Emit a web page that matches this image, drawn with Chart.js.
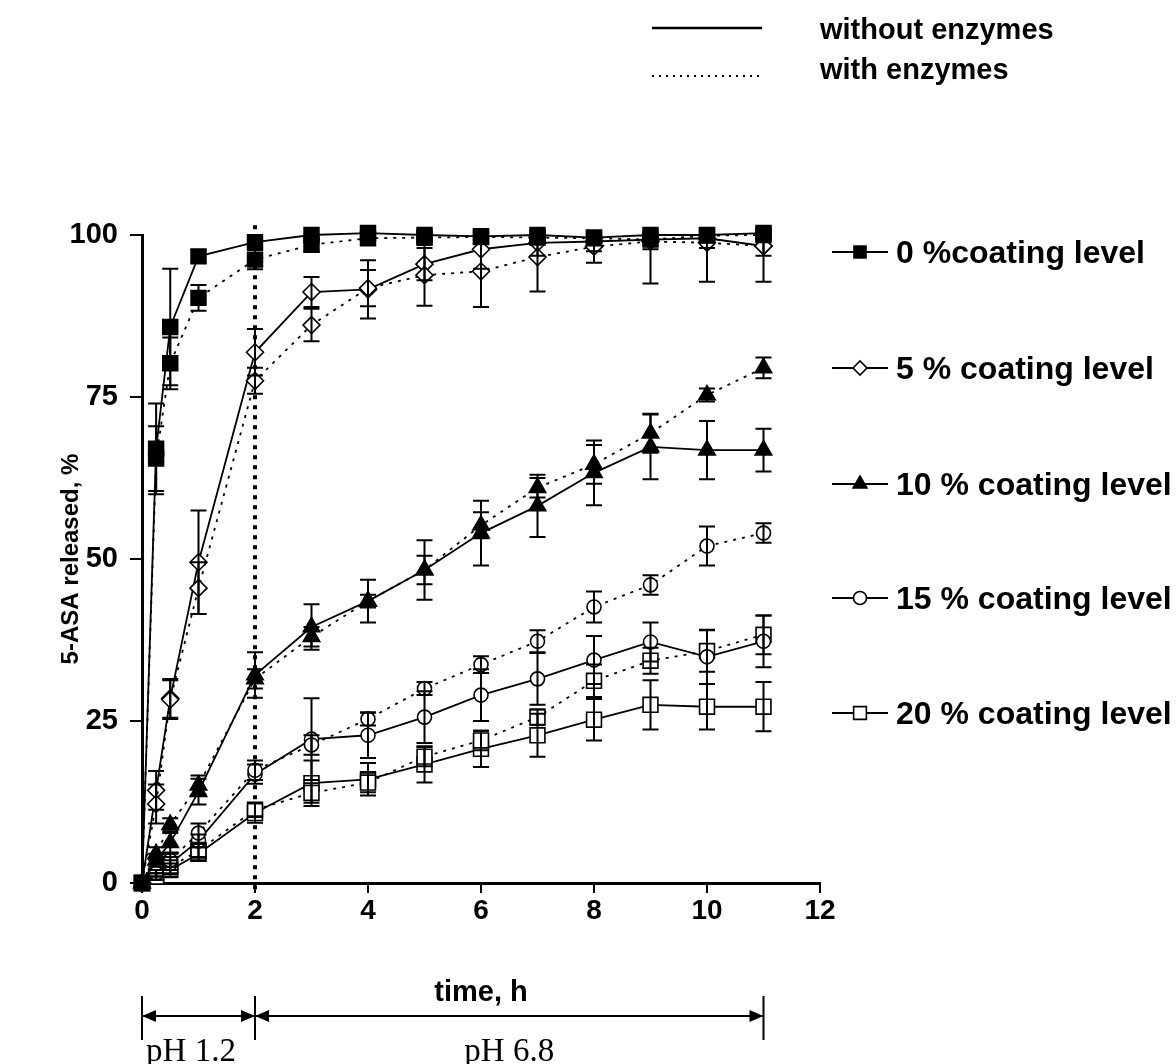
<!DOCTYPE html>
<html>
<head>
<meta charset="utf-8">
<script src="https://cdn.jsdelivr.net/npm/chart.js@4.4.1/dist/chart.umd.min.js"></script>
<style>
  html, body { margin: 0; padding: 0; background: #fff; }
  canvas { display: block; }
</style>
</head>
<body>
<canvas id="grafico" width="1176" height="1064"></canvas>
<script>
// Tiempos de muestreo (h)
const tiempos = [0, 0.25, 0.5, 1, 2, 3, 4, 5, 6, 7, 8, 9, 10, 11];

// Etiquetas de los niveles de recubrimiento
const nivelesRecubrimiento = ['0 %coating level', '5 % coating level', '10 % coating level', '15 % coating level', '20 % coating level'];

// 5-ASA liberado (%) sin enzimas
const sin0 = [0, 67.0, 85.8, 96.7, 98.9, 100.0, 100.3, 100.0, 99.8, 100.0, 99.6, 100.0, 100.0, 100.3];
const sin5 = [0, 14.3, 28.5, 49.5, 81.9, 91.2, 91.6, 95.5, 97.8, 98.8, 99.0, 99.3, 99.5, 98.3];
const sin10 = [0, 3.5, 6.2, 14.1, 32.1, 39.5, 43.5, 48.3, 54.0, 58.2, 63.3, 67.3, 66.8, 66.8];
const sin15 = [0, 1.5, 3.0, 6.5, 16.8, 22.2, 22.8, 25.6, 29.0, 31.5, 34.4, 37.2, 34.9, 37.3];
const sin20 = [0, 1.0, 2.0, 4.5, 10.8, 15.4, 16.0, 18.3, 20.7, 22.8, 25.2, 27.5, 27.2, 27.2];

// 5-ASA liberado (%) con enzimas
const con0 = [0, 65.5, 80.2, 90.3, 96.2, 98.5, 99.5, 99.6, 99.7, 99.6, 99.5, 99.3, 99.9, 100.0];
const con5 = [0, 12.2, 28.3, 45.5, 77.5, 86.1, 91.8, 93.8, 94.4, 96.6, 98.2, 99.0, 98.8, 98.3];
const con10 = [0, 4.5, 9.0, 15.1, 31.5, 38.0, 43.5, 48.3, 55.2, 61.0, 64.6, 69.4, 75.3, 79.5];
const con15 = [0, 1.5, 3.5, 7.7, 17.4, 21.3, 25.3, 30.0, 33.7, 37.3, 42.6, 46.0, 52.0, 54.0];
const con20 = [0, 1.0, 2.5, 5.0, 11.3, 13.9, 15.5, 19.5, 22.0, 25.6, 31.2, 34.3, 35.8, 38.3];

// Desviaciones (barras de error) sin enzimas
const errSin0 = [0, 7, 9, 1, 1, 0.5, 0.5, 0.5, 0.5, 0.5, 0.5, 0.5, 0.5, 0.5];
const errSin5 = [0, 3, 3, 8, 3.6, 2.3, 4.5, 2.5, 3, 2, 1.5, 1.5, 1.5, 1.5];
const errSin10 = [0, 1, 1.5, 2, 3.5, 3.5, 3.3, 4.6, 5, 4.8, 5, 5, 4.5, 3.3];
const errSin15 = [0, 0.5, 1, 1, 1.5, 6.3, 3.5, 4, 4, 4, 3.7, 3, 4.2, 4];
const errSin20 = [0, 0.5, 1, 1, 1.5, 3.5, 2.5, 2.8, 2.8, 3.3, 3.2, 3.8, 3.5, 3.8];

// Desviaciones (barras de error) con enzimas
const errCon0 = [0, 5, 4, 2, 1.5, 1, 0.5, 0.5, 0.5, 0.5, 0.5, 0.5, 0.5, 0.5];
const errCon5 = [0, 3, 3, 4, 2, 2.5, 2.8, 4.7, 5.5, 5.3, 2.5, 6.5, 6, 5.5];
const errCon10 = [0, 1, 1, 1.5, 1.5, 1.5, 1, 2.2, 2, 1.5, 3, 3, 1, 1.6];
const errCon15 = [0, 0.5, 1, 1.5, 1.5, 1.5, 1, 1, 1.3, 1.7, 2.4, 1.5, 3, 1.5];
const errCon20 = [0, 0.5, 1, 1, 1, 1.5, 1.5, 1.5, 1.5, 1.2, 2.5, 2, 3.2, 3];

// Marcas de los ejes
const ticksX = [0, 2, 4, 6, 8, 10, 12];
const ticksY = [0, 25, 50, 75, 100];

// Cambio de pH
const inicioPH = 0;
const cambioPH = 2;
const finPH = 11;
const etiquetasPH = ['pH 1.2', 'pH 6.8'];

// Tope de liberacion (las barras no pasan de aqui)
const liberacionMax = 100;

// Estilo de marcador por nivel
const marcadores = [
  { estilo: 'rect', radio: 10.5, relleno: '#000', leyendaRadio: 8.5 },
  { estilo: 'rectRot', radio: 8.5, relleno: '#fff', leyendaRadio: 7 },
  { estilo: 'triangle', radio: 9.5, relleno: '#000', leyendaRadio: 8 },
  { estilo: 'circle', radio: 7, relleno: '#fff', leyendaRadio: 6.5 },
  { estilo: 'rect', radio: 10.5, relleno: '#fff', leyendaRadio: 9 }
];

const sinEnzimas = [sin0, sin5, sin10, sin15, sin20];
const conEnzimas = [con0, con5, con10, con15, con20];
const erroresSin = [errSin0, errSin5, errSin10, errSin15, errSin20];
const erroresCon = [errCon0, errCon5, errCon10, errCon15, errCon20];

const fuenteSans = '"Liberation Sans", Arial, sans-serif';

// Construir datasets
function crearDataset(valores, errores, m, punteado, etiqueta) {
  return {
    label: etiqueta,
    data: valores.map((v, i) => ({ x: tiempos[i], y: v })),
    errores: errores,
    borderColor: '#000',
    borderWidth: 1.8,
    borderDash: punteado ? [3, 6] : [],
    pointStyle: m.estilo,
    pointRadius: m.radio,
    pointBackgroundColor: m.relleno,
    pointBorderColor: '#000',
    pointBorderWidth: 1.6,
    tension: 0,
    fill: false,
    clip: false
  };
}

const datasets = [];
nivelesRecubrimiento.forEach((nivel, k) => {
  datasets.push(crearDataset(conEnzimas[k], erroresCon[k], marcadores[k], true, nivel + ' (with enzymes)'));
  datasets.push(crearDataset(sinEnzimas[k], erroresSin[k], marcadores[k], false, nivel));
});

// Fondo blanco
const pluginFondo = {
  id: 'fondo',
  beforeDraw(chart) {
    const ctx = chart.ctx;
    ctx.save();
    ctx.fillStyle = '#fff';
    ctx.fillRect(0, 0, chart.width, chart.height);
    ctx.restore();
  }
};

// Linea vertical de cambio de pH
const pluginLineaPH = {
  id: 'lineaPH',
  beforeDatasetsDraw(chart) {
    const { ctx, scales } = chart;
    const x = scales.x.getPixelForValue(cambioPH);
    ctx.save();
    ctx.strokeStyle = '#000';
    ctx.lineWidth = 4;
    ctx.setLineDash([4, 6]);
    ctx.beginPath();
    ctx.moveTo(x, scales.y.getPixelForValue(101.5));
    ctx.lineTo(x, scales.y.getPixelForValue(0) + 8);
    ctx.stroke();
    ctx.restore();
  }
};

// Barras de error
const pluginErrores = {
  id: 'errores',
  afterDatasetsDraw(chart) {
    const { ctx, scales } = chart;
    ctx.save();
    ctx.strokeStyle = '#000';
    ctx.lineWidth = 2;
    ctx.setLineDash([]);
    chart.data.datasets.forEach(ds => {
      ds.data.forEach((p, i) => {
        const e = ds.errores[i];
        if (!e) return;
        const arriba = p.y + e;
        const recortado = arriba > liberacionMax;
        const x = scales.x.getPixelForValue(p.x);
        const y1 = scales.y.getPixelForValue(recortado ? Math.max(p.y, liberacionMax) : arriba);
        const y2 = scales.y.getPixelForValue(p.y - e);
        ctx.beginPath();
        ctx.moveTo(x, y1);
        ctx.lineTo(x, y2);
        if (!recortado) {
          ctx.moveTo(x - 8, y1);
          ctx.lineTo(x + 8, y1);
        }
        ctx.moveTo(x - 8, y2);
        ctx.lineTo(x + 8, y2);
        ctx.stroke();
      });
    });
    ctx.restore();
  }
};

// Punta de flecha
function flecha(ctx, x, y, dir) {
  ctx.beginPath();
  ctx.moveTo(x, y);
  ctx.lineTo(x - dir * 14, y - 6);
  ctx.lineTo(x - dir * 14, y + 6);
  ctx.closePath();
  ctx.fill();
}

// Leyendas y anotacion de pH
const pluginLeyendas = {
  id: 'leyendas',
  afterDraw(chart) {
    const { ctx, scales } = chart;
    ctx.save();
    ctx.fillStyle = '#000';
    ctx.strokeStyle = '#000';

    // Leyenda superior (tipo de linea)
    ctx.lineWidth = 2.5;
    ctx.beginPath();
    ctx.moveTo(652, 28);
    ctx.lineTo(762, 28);
    ctx.stroke();
    ctx.lineWidth = 2;
    ctx.setLineDash([2, 5]);
    ctx.beginPath();
    ctx.moveTo(652, 76);
    ctx.lineTo(762, 76);
    ctx.stroke();
    ctx.setLineDash([]);
    ctx.font = 'bold 29px ' + fuenteSans;
    ctx.textAlign = 'left';
    ctx.textBaseline = 'middle';
    ctx.fillText('without enzymes', 820, 31);
    ctx.fillText('with enzymes', 820, 71);

    // Leyenda derecha (niveles)
    const filas = [252, 368, 484, 598, 713];
    ctx.font = 'bold 32px ' + fuenteSans;
    nivelesRecubrimiento.forEach((nivel, k) => {
      const y = filas[k];
      const m = marcadores[k];
      ctx.lineWidth = 2;
      ctx.beginPath();
      ctx.moveTo(832, y);
      ctx.lineTo(888, y);
      ctx.stroke();
      ctx.fillStyle = m.relleno;
      ctx.lineWidth = 1.6;
      Chart.helpers.drawPoint(ctx, {
        pointStyle: m.estilo,
        radius: m.leyendaRadio,
        rotation: 0,
        borderWidth: 1.6
      }, 860, y);
      ctx.fillStyle = '#000';
      ctx.fillText(nivel, 896, y + 2);
    });

    // Anotacion de pH bajo el eje
    const x0 = scales.x.getPixelForValue(inicioPH);
    const x1 = scales.x.getPixelForValue(cambioPH);
    const x2 = scales.x.getPixelForValue(finPH);
    const yF = 1016;
    ctx.lineWidth = 2;
    ctx.beginPath();
    [x0, x1, x2].forEach(x => {
      ctx.moveTo(x, 996);
      ctx.lineTo(x, 1040);
    });
    ctx.moveTo(x0, yF);
    ctx.lineTo(x2, yF);
    ctx.stroke();
    flecha(ctx, x0, yF, -1);
    flecha(ctx, x1, yF, 1);
    flecha(ctx, x1, yF, -1);
    flecha(ctx, x2, yF, 1);

    ctx.font = '33px "Liberation Serif", "Times New Roman", serif';
    ctx.textAlign = 'center';
    ctx.textBaseline = 'alphabetic';
    ctx.fillText(etiquetasPH[0], x0 + 49, 1061);
    ctx.fillText(etiquetasPH[1], (x1 + x2) / 2, 1061);
    ctx.restore();
  }
};

const chart = new Chart(document.getElementById('grafico').getContext('2d'), {
  type: 'line',
  data: { datasets },
  plugins: [pluginFondo, pluginLineaPH, pluginErrores, pluginLeyendas],
  options: {
    responsive: false,
    animation: false,
    events: [],
    layout: { padding: { top: 235, right: 356, bottom: 0, left: 0 } },
    plugins: {
      legend: { display: false },
      tooltip: { enabled: false }
    },
    scales: {
      x: {
        type: 'linear',
        min: 0,
        max: 12,
        afterFit: s => { s.height = 181; },
        afterBuildTicks: s => { s.ticks = ticksX.map(v => ({ value: v })); },
        border: { color: '#000', width: 3 },
        grid: { drawOnChartArea: false, drawTicks: true, tickLength: 10, color: '#000', lineWidth: 2 },
        ticks: { color: '#000', padding: 1, maxRotation: 0, font: { family: fuenteSans, size: 28, weight: 'bold' } },
        title: { display: true, text: 'time, h', color: '#000', padding: { bottom: 54 }, font: { family: fuenteSans, size: 29, weight: 'bold' } }
      },
      y: {
        type: 'linear',
        min: 0,
        max: 100,
        afterFit: s => { s.width = 142; },
        afterBuildTicks: s => { s.ticks = ticksY.map(v => ({ value: v })); },
        border: { color: '#000', width: 3 },
        grid: { drawOnChartArea: false, drawTicks: true, tickLength: 12, color: '#000', lineWidth: 2 },
        ticks: { color: '#000', padding: 12, font: { family: fuenteSans, size: 29, weight: 'bold' } },
        title: { display: true, text: '5-ASA released, %', color: '#000', padding: { top: 57 }, font: { family: fuenteSans, size: 24, weight: 'bold' } }
      }
    }
  }
});
</script>
</body>
</html>
